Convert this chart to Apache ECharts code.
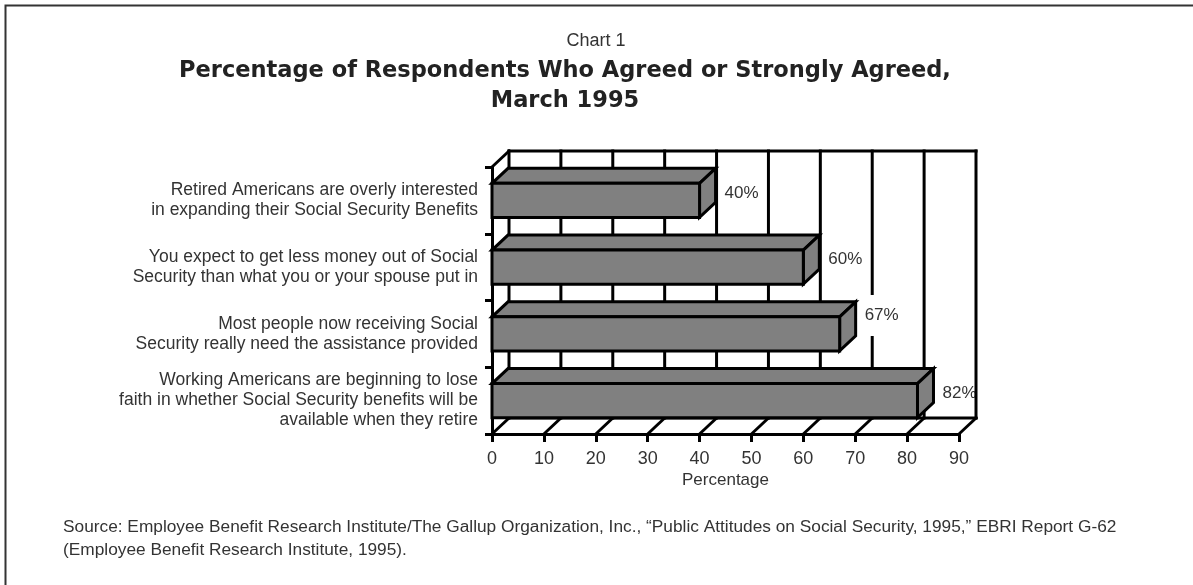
<!DOCTYPE html>
<html>
<head>
<meta charset="utf-8">
<script src="https://cdn.jsdelivr.net/npm/echarts@6/dist/echarts.min.js"></script>
<style>
html,body{margin:0;padding:0;background:#fff;}
#chart{width:1193px;height:585px;}
</style>
</head>
<body>
<div id="chart"></div>
<script>
const categories = [
  'Retired Americans are overly interested\nin expanding their Social Security Benefits',
  'You expect to get less money out of Social\nSecurity than what you or your spouse put in',
  'Most people now receiving Social\nSecurity really need the assistance provided',
  'Working Americans are beginning to lose\nfaith in whether Social Security benefits will be\navailable when they retire'
];
const values = [40, 60, 67, 82];
const xTicks = [0, 10, 20, 30, 40, 50, 60, 70, 80, 90];
const chartNumber = 'Chart 1';
const chartTitle = 'Percentage of Respondents Who Agreed or Strongly Agreed,\nMarch 1995';
const axisName = 'Percentage';
const sourceText = 'Source: Employee Benefit Research Institute/The Gallup Organization, Inc., \u201cPublic Attitudes on Social Security, 1995,\u201d EBRI Report G-62\n(Employee Benefit Research Institute, 1995).';

const FONT = '"Liberation Sans", Arial, sans-serif';
const TXT = '#333';
const FDX = 17, FDY = -16;   // frame depth
const BDX = 16, BDY = -15;   // bar depth

const chart = echarts.init(document.getElementById('chart'));
const LS = {stroke: '#000', lineWidth: 3, lineCap: 'square'};

function renderFrame(params, api) {
  const cs = params.coordSys;
  const top = cs.y, bot = cs.y + cs.height;
  const children = [];
  const xs = xTicks.map(t => api.coord([t, 0])[0]);
  xs.forEach((x, i) => {
    if (i < xs.length - 1) {
      children.push({type: 'line', shape: {x1: x + FDX, y1: top + FDY, x2: x + FDX, y2: bot + FDY}, style: LS});
    }
    children.push({type: 'line', shape: {x1: x, y1: bot, x2: x + FDX, y2: bot + FDY}, style: LS});
  });
  const x0 = xs[0], xN = xs[xs.length - 1];
  children.push({type: 'line', shape: {x1: x0 + FDX, y1: top + FDY, x2: xN + FDX, y2: top + FDY}, style: LS});
  children.push({type: 'line', shape: {x1: x0 + FDX, y1: bot + FDY, x2: xN + FDX, y2: bot + FDY}, style: LS});
  children.push({type: 'line', shape: {x1: x0, y1: top, x2: x0 + FDX, y2: top + FDY}, style: LS});
  return {type: 'group', children};
}

function renderEdge(params, api) {
  const cs = params.coordSys;
  const top = cs.y, bot = cs.y + cs.height;
  const xN = api.coord([xTicks[xTicks.length - 1], 0])[0];
  return {type: 'line', shape: {x1: xN + FDX, y1: top + FDY, x2: xN + FDX, y2: bot + FDY}, style: LS};
}

function renderBar(params, api) {
  const v = api.value(0), c = api.value(1);
  const p0 = api.coord([0, c]);
  const p1 = api.coord([v, c]);
  const band = api.size([0, 1])[1];
  const h = band * 0.51;
  const x0 = p0[0], x1 = p1[0];
  const yT = p0[1] - h / 2, yB = p0[1] + h / 2;
  const st = {fill: '#808080', stroke: '#000', lineWidth: 3, lineJoin: 'miter'};
  const lblOffset = params.dataIndex === 2 ? -11 : 0;
  return {
    type: 'group',
    children: [
      {type: 'polygon', shape: {points: [[x0, yT], [x1, yT], [x1 + BDX, yT + BDY], [x0 + BDX, yT + BDY]]}, style: st},
      {type: 'polygon', shape: {points: [[x1, yT], [x1 + BDX, yT + BDY], [x1 + BDX, yB + BDY], [x1, yB]]}, style: st},
      {type: 'rect', shape: {x: x0, y: yT, width: x1 - x0, height: yB - yT}, style: st},
      {type: 'text', z2: 10, style: {
        text: v + '%', x: x1 + BDX + 9, y: (yT + yB) / 2 + BDY / 2 + lblOffset,
        align: 'left', verticalAlign: 'middle', fill: TXT,
        font: '17px ' + FONT, backgroundColor: '#fff', padding: [12, 0]
      }}
    ]
  };
}

const option = {
  animation: false,
  backgroundColor: '#fff',
  grid: {left: 492, top: 167, width: 467, height: 267, containLabel: false},
  xAxis: {
    type: 'value', min: 0, max: 90, interval: 10,
    axisLine: {show: true, lineStyle: {color: '#000', width: 3}},
    axisTick: {show: true, length: 8, lineStyle: {color: '#000', width: 3}},
    axisLabel: {fontSize: 18, fontFamily: FONT, color: TXT, margin: 16},
    splitLine: {show: false},
    name: axisName, nameLocation: 'middle', nameGap: 38,
    nameTextStyle: {fontSize: 17, fontFamily: FONT, color: TXT}
  },
  yAxis: {
    type: 'category', data: categories, inverse: true,
    axisLine: {show: true, lineStyle: {color: '#000', width: 3}},
    axisTick: {show: true, length: 7, lineStyle: {color: '#000', width: 3}},
    axisLabel: {fontSize: 17.5, lineHeight: 20, fontFamily: FONT, color: TXT, margin: 14, align: 'right'},
    splitLine: {show: false}
  },
  series: [
    {type: 'custom', name: 'frame', renderItem: renderFrame, data: [[0, 0]], encode: {x: 0, y: 1}, z: 1, silent: true, clip: false},
    {type: 'custom', name: 'bars', renderItem: renderBar, data: values.map((v, i) => [v, i]), encode: {x: 0, y: 1}, z: 3, silent: true, clip: false},
    {type: 'custom', name: 'edge', renderItem: renderEdge, data: [[0, 0]], encode: {x: 0, y: 1}, z: 4, silent: true, clip: false}
  ],
  graphic: [
    {type: 'rect', shape: {x: 5.5, y: 5.5, width: 1400, height: 800}, style: {fill: 'none', stroke: '#333', lineWidth: 2}, silent: true},
    {type: 'text', x: 596, y: 41, style: {text: chartNumber, align: 'center', verticalAlign: 'middle', font: '18px ' + FONT, fill: TXT}},
    {type: 'text', x: 565, y: 86, style: {text: chartTitle, align: 'center', verticalAlign: 'middle', font: 'bold 22.5px "DejaVu Sans", sans-serif', fill: '#222', lineHeight: 30}},
    {type: 'text', x: 63, y: 539, style: {text: sourceText, align: 'left', verticalAlign: 'middle', font: '17.3px ' + FONT, fill: TXT, lineHeight: 23}}
  ]
};
chart.setOption(option);
</script>
</body>
</html>
